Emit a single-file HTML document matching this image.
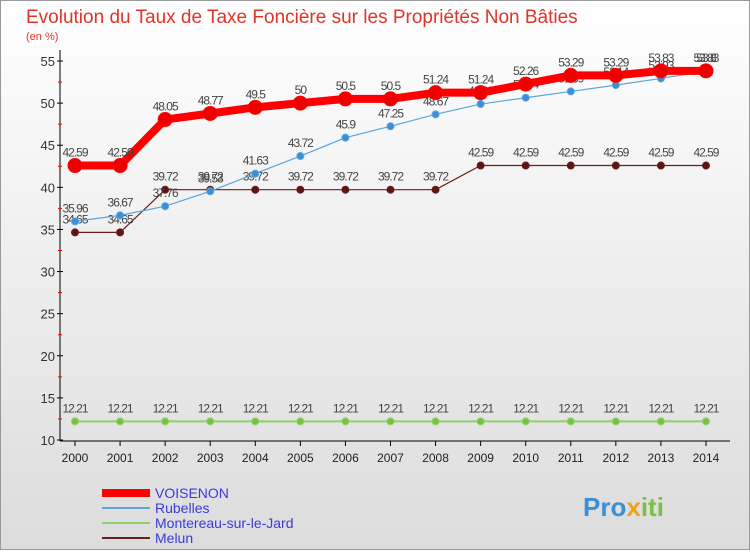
<!DOCTYPE html>
<html><head><meta charset="utf-8"><style>
body{margin:0;width:750px;height:550px;overflow:hidden;font-family:"Liberation Sans",sans-serif}
</style></head><body>
<svg id="c" width="750" height="550" xmlns="http://www.w3.org/2000/svg">
<defs><linearGradient id="bg" x1="0" y1="0" x2="0" y2="1"><stop offset="0" stop-color="#ffffff"/><stop offset="1" stop-color="#dcdcdc"/></linearGradient></defs>
<rect x="0.5" y="0.5" width="749" height="549" fill="url(#bg)" stroke="#999"/>
<text x="26" y="23" font-size="19" fill="#e0342a">Evolution du Taux de Taxe Foncière sur les Propriétés Non Bâties</text>
<text x="26" y="40" font-size="11" fill="#e0342a">(en %)</text>
<g id="axes"></g><g id="series"></g><g id="legend"></g>
<text x="583" y="516" font-size="26" font-weight="bold" fill="#3a8fd6">Pro<tspan fill="#f0a020">x</tspan><tspan fill="#7ac143">iti</tspan></text>
</svg>
<script>
const years=[2000,2001,2002,2003,2004,2005,2006,2007,2008,2009,2010,2011,2012,2013,2014];
const voisenon=[42.59,42.59,48.05,48.77,49.5,50,50.5,50.5,51.24,51.24,52.26,53.29,53.29,53.83,53.83];
const rubelles=[35.96,36.67,37.76,39.53,41.63,43.72,45.9,47.25,48.67,49.89,50.64,51.39,52.14,52.93,53.8];
const montereau=[12.21,12.21,12.21,12.21,12.21,12.21,12.21,12.21,12.21,12.21,12.21,12.21,12.21,12.21,12.21];
const melun=[34.65,34.65,39.72,39.72,39.72,39.72,39.72,39.72,39.72,42.59,42.59,42.59,42.59,42.59,42.59];
const yTicks=[10,15,20,25,30,35,40,45,50,55];
const NS="http://www.w3.org/2000/svg";
const X=i=>75+i*45.07, Y=v=>440-(v-10)*8.422;
function el(p,t,a){const e=document.createElementNS(NS,t);for(const k in a)e.setAttribute(k,a[k]);p.appendChild(e);return e;}
const ax=document.getElementById('axes');
let l=el(ax,'line',{x1:60,y1:50,x2:60,y2:441,stroke:'#000'});


l=el(ax,'line',{x1:60,y1:441,x2:730,y2:441,stroke:'#000'});


yTicks.forEach(v=>{const y=Y(v);el(ax,'line',{x1:57,y1:y,x2:63,y2:y,stroke:'#000'});
 if(v<55)el(ax,'line',{x1:58,y1:Y(v+2.5),x2:62,y2:Y(v+2.5),stroke:'#f00'});
 const t=el(ax,'text',{x:55,y:y+5,'font-size':13,fill:'#333','text-anchor':'end'});t.textContent=v;
 
 });
years.forEach((yr,i)=>{el(ax,'line',{x1:X(i),y1:441,x2:X(i),y2:446,stroke:'#000'});
 const t=el(ax,'text',{x:X(i),y:462,'font-size':12,fill:'#222','text-anchor':'middle'});t.textContent=yr;
 
 });
const sg=document.getElementById('series');
function series(vals,color,w,r,name,dot){
 const g=el(sg,'g',{});
 
 
 el(g,'polyline',{points:vals.map((v,i)=>X(i)+','+Y(v)).join(' '),fill:'none',stroke:color,'stroke-width':w,'stroke-linejoin':'round'});
 vals.forEach((v,i)=>{const c=el(g,'circle',{cx:X(i),cy:Y(v),r:r,fill:dot,stroke:color});
  
  
  const t=el(g,'text',{x:X(i),y:Y(v)-9,'font-size':12,fill:'#444','text-anchor':'middle','letter-spacing':'-1'});t.textContent=v;
  
  });
}
series(montereau,'#8fd16a',2,3.5,'montereau','#7ac143');
series(melun,'#6b1d1d',1.2,3.5,'melun','#5a1515');
series(rubelles,'#5aa5dc',1.2,3.5,'rubelles','#3a8fd6');
series(voisenon,'#ff0000',8,7,'voisenon','#ee0000');
const lg=document.getElementById('legend');
[['VOISENON','#ff0000',8],['Rubelles','#5aa5dc',2],['Montereau-sur-le-Jard','#8fd16a',2],['Melun','#6b1d1d',2]].forEach((d,i)=>{
 const y=493+i*15;
 const g=el(lg,'g',{});
 
 
 el(g,'line',{x1:102,y1:y,x2:150,y2:y,stroke:d[1],'stroke-width':d[2]});
 const t=el(g,'text',{x:155,y:y+5,'font-size':14,fill:'#3b3bdc'});t.textContent=d[0];});
</script>
</body></html>
